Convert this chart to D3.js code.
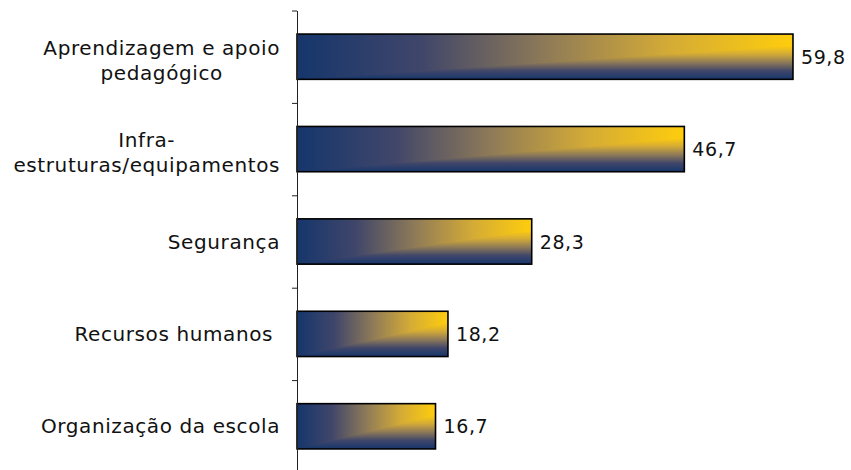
<!DOCTYPE html>
<html>
<head>
<meta charset="utf-8">
<script src="https://cdn.jsdelivr.net/npm/d3@7"></script>
<style>
  html, body { margin: 0; padding: 0; background: #ffffff; }
  svg { display: block; }
  text { font-family: "DejaVu Sans", Verdana, sans-serif; fill: #111; }
</style>
</head>
<body>
<svg id="chart" width="851" height="470"></svg>
<script>
// ---- data ----
const categories = [
  "Aprendizagem e apoio\npedagógico",
  "Infra-\nestruturas/equipamentos",
  "Segurança",
  "Recursos humanos ",
  "Organização da escola"
];
const values = [59.8, 46.7, 28.3, 18.2, 16.7];
const valueLabels = ["59,8", "46,7", "28,3", "18,2", "16,7"];

// ---- layout ----
const W = 851, H = 470;
const svg = d3.select("#chart");
svg.append("rect").attr("width", W).attr("height", H).attr("fill", "#fff");

const axisX = 297;
const y = d3.scaleBand().domain(categories).range([10.5, 472.5])
  .paddingInner(0.51).paddingOuter(0.255);
const x = d3.scaleLinear().domain([0, 60]).range([axisX, axisX + 60 * 8.294]);

// gradients
const defs = svg.append("defs");
const stops = [
  [0, "#15366c"], [0.25, "#40466a"], [0.5, "#8e7a58"], [0.75, "#d4ab36"], [1, "#ffcd0c"]
];
const gh = defs.append("linearGradient").attr("id", "gh")
  .attr("x1", 0).attr("y1", 0).attr("x2", 1).attr("y2", 0);
stops.forEach(s => gh.append("stop").attr("offset", s[0]).attr("stop-color", s[1]));
const gv = defs.append("linearGradient").attr("id", "gv")
  .attr("x1", 0).attr("y1", 1).attr("x2", 0).attr("y2", 0);
stops.forEach(s => gv.append("stop").attr("offset", s[0]).attr("stop-color", s[1]));

const bars = svg.append("g").selectAll("g").data(categories).join("g");
const bh = y.bandwidth();

bars.append("rect")
  .attr("x", x(0))
  .attr("y", d => y(d))
  .attr("width", (d, i) => x(values[i]) - x(0))
  .attr("height", bh)
  .attr("fill", "url(#gh)");

bars.append("path")
  .attr("d", (d, i) => {
    const x0 = x(0), x1 = x(values[i]), yb = y(d) + bh, yt = y(d) + bh * 0.25;
    return `M${x0},${yb}L${x1},${yb}L${x1},${yt}Z`;
  })
  .attr("fill", "url(#gv)");

bars.append("rect")
  .attr("x", x(0))
  .attr("y", d => y(d))
  .attr("width", (d, i) => x(values[i]) - x(0))
  .attr("height", bh)
  .attr("fill", "none")
  .attr("stroke", "#000")
  .attr("stroke-width", 1.6);

// value labels
bars.append("text")
  .attr("x", (d, i) => x(values[i]) + 8)
  .attr("y", d => y(d) + bh / 2 + 7)
  .attr("font-size", 19)
  .attr("letter-spacing", 0.6)
  .text((d, i) => valueLabels[i]);

// axis with ticks at category boundaries
const yb = d3.scaleLinear().domain([0, categories.length]).range([10.5, 472.5]);
const axisG = svg.append("g").attr("transform", `translate(${axisX},0)`)
  .call(d3.axisLeft(yb).tickValues(d3.range(categories.length + 1))
    .tickFormat("").tickSize(5).tickSizeOuter(0));
axisG.selectAll("path, line").attr("stroke", "#222").attr("stroke-width", 1);

// category labels (multi-line, centered block, right-aligned)
const labelRight = 280;
categories.forEach((c, i) => {
  const lines = c.split("\n");
  const cy = y(c) + bh / 2;
  const g = svg.append("g");
  const ts = lines.map((ln, j) => g.append("text")
    .attr("font-size", 20)
    .attr("letter-spacing", 0.6)
    .style("white-space", "pre")
    .attr("text-anchor", lines.length > 1 ? "middle" : "end")
    .attr("y", lines.length > 1 ? cy - 2 + j * 25 : cy + 7)
    .text(ln));
  if (lines.length > 1) {
    const maxW = d3.max(ts, t => t.node().getComputedTextLength());
    ts.forEach(t => t.attr("x", labelRight - maxW / 2));
  } else {
    ts[0].attr("x", labelRight);
  }
});
</script>
</body>
</html>
